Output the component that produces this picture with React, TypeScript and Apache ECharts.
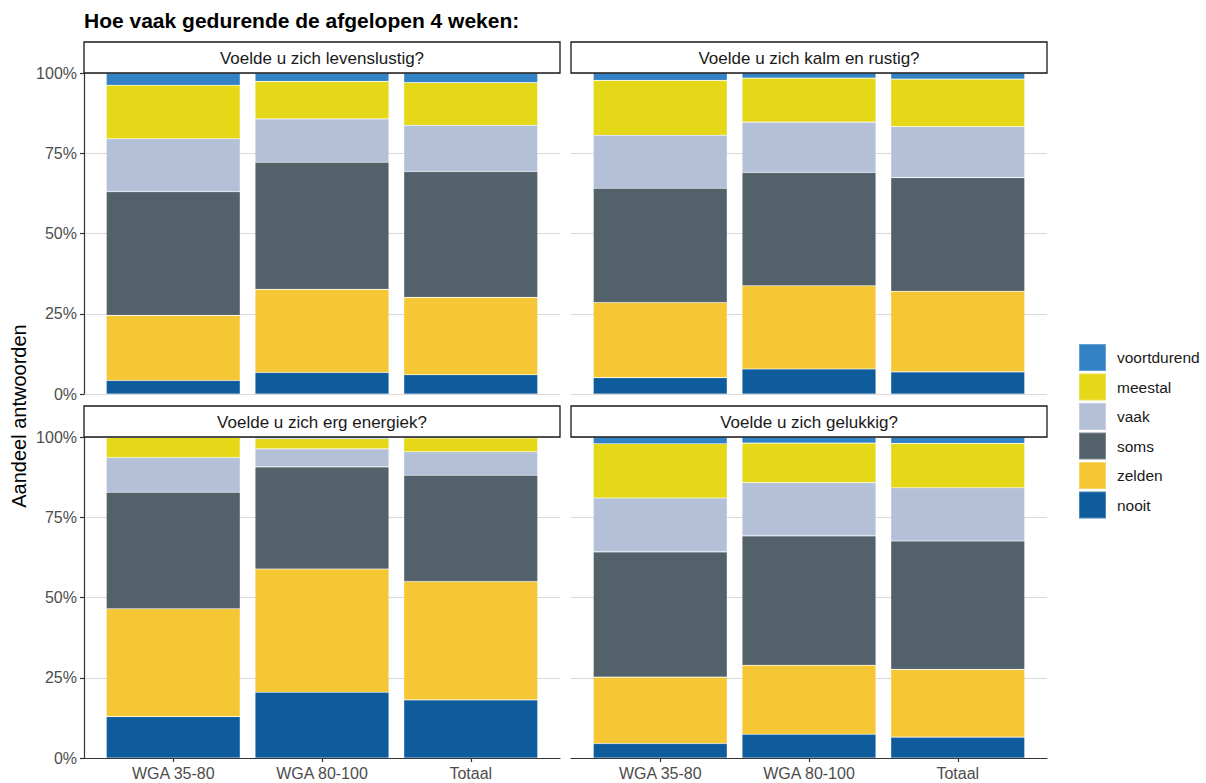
import React, { useEffect, useRef } from "react";
import * as echarts from "echarts";

const answers = ["nooit", "zelden", "soms", "vaak", "meestal", "voortdurend"];
const legendOrder = ["voortdurend", "meestal", "vaak", "soms", "zelden", "nooit"];
const groups = ["WGA 35-80", "WGA 80-100", "Totaal"];
const panelTitles = [
  "Voelde u zich levenslustig?",
  "Voelde u zich kalm en rustig?",
  "Voelde u zich erg energiek?",
  "Voelde u zich gelukkig?",
];

// rows: nooit, zelden, soms, vaak, meestal, voortdurend; columns: groups
const levenslustig = [
  [4.2, 6.7, 6.0],
  [20.3, 25.9, 24.1],
  [38.5, 39.6, 39.2],
  [16.5, 13.5, 14.4],
  [16.7, 11.7, 13.3],
  [3.8, 2.6, 3.0],
];
const kalmRustig = [
  [5.1, 7.8, 6.9],
  [23.4, 25.9, 25.1],
  [35.6, 35.3, 35.4],
  [16.5, 15.7, 15.9],
  [17.1, 13.7, 14.8],
  [2.3, 1.6, 1.9],
];
const ergEnergiek = [
  [12.9, 20.5, 18.1],
  [33.6, 38.4, 36.9],
  [36.3, 31.8, 33.1],
  [10.8, 5.6, 7.3],
  [6.2, 3.2, 4.3],
  [0.2, 0.5, 0.3],
];
const gelukkig = [
  [4.5, 7.4, 6.5],
  [20.7, 21.5, 21.1],
  [39.0, 40.3, 40.0],
  [16.8, 16.6, 16.6],
  [16.9, 12.3, 13.8],
  [2.1, 1.9, 2.0],
];
const panels = [levenslustig, kalmRustig, ergEnergiek, gelukkig];

const colors: Record<string, string> = {
  nooit: "#0E5C9C",
  zelden: "#F5C734",
  soms: "#53616B",
  vaak: "#B3C0D7",
  meestal: "#E5D818",
  voortdurend: "#3282C5",
};

const FONT = "'Liberation Sans', Arial, Helvetica, sans-serif";

export default function App() {
  const ref = useRef<HTMLDivElement>(null);
  useEffect(() => {
    if (!ref.current) return;
    const chart = echarts.init(ref.current, null, { renderer: "svg" });

    const PW = 476;
    const PH = 321;
    const lefts = [84, 571, 84, 571];
    const tops = [73, 73, 437, 437];
    const stripH = 31;
    const unit = PW / 3.2; // ggplot discrete expansion 0.6
    const pad = 0.1 * unit;

    const grid: any[] = [];
    // full-width panels (axes, gridlines)
    lefts.forEach((l, i) => grid.push({ left: l, top: tops[i], width: PW, height: PH }));
    // narrow bar grids
    lefts.forEach((l, i) => grid.push({ left: l + pad, top: tops[i], width: PW - 2 * pad, height: PH }));

    const xAxis: any[] = [];
    const yAxis: any[] = [];
    lefts.forEach((_, i) => {
      const bottom = i >= 2;
      const left = i % 2 === 0;
      xAxis.push({
        type: "value",
        gridIndex: i,
        min: 0,
        max: 1,
        splitLine: { show: false },
        axisLine: { show: bottom, onZero: false, lineStyle: { color: "#333333", width: 1.2 } },
        axisTick: { show: false },
        axisLabel: { show: false },
      });
      yAxis.push({
        type: "value",
        gridIndex: i,
        min: 0,
        max: 100,
        interval: 25,
        axisLine: { show: left, onZero: false, lineStyle: { color: "#333333", width: 1.2 } },
        axisTick: { show: left, length: 4, lineStyle: { color: "#333333", width: 1.2 } },
        axisLabel: {
          show: left,
          formatter: "{value}%",
          fontFamily: FONT,
          fontSize: 16,
          color: "#4D4D4D",
          margin: 7,
        },
        splitLine: { show: true, lineStyle: { color: "#D9D9D9", width: 1.2 } },
      });
    });
    lefts.forEach((_, i) => {
      const bottom = i >= 2;
      xAxis.push({
        type: "category",
        gridIndex: 4 + i,
        data: groups,
        boundaryGap: true,
        axisLine: { show: false },
        axisTick: {
          show: bottom,
          alignWithLabel: true,
          length: 4,
          lineStyle: { color: "#333333", width: 1.2 },
        },
        axisLabel: {
          show: bottom,
          fontFamily: FONT,
          fontSize: 16,
          color: "#4D4D4D",
          margin: 7,
        },
        splitLine: { show: false },
      });
      yAxis.push({
        type: "value",
        gridIndex: 4 + i,
        min: 0,
        max: 100,
        show: false,
        splitLine: { show: false },
      });
    });

    const series: any[] = [];
    panels.forEach((panel, p) => {
      answers.forEach((a, k) => {
        series.push({
          type: "bar",
          name: a,
          xAxisIndex: 4 + p,
          yAxisIndex: 4 + p,
          stack: "panel" + p,
          barWidth: "90%",
          itemStyle: { color: colors[a], borderColor: "rgba(255,255,255,0.25)", borderWidth: 0.6 },
          data: panel[k],
        });
      });
    });

    const graphics: any[] = [
      {
        type: "text",
        left: 84,
        top: 10,
        style: {
          text: "Hoe vaak gedurende de afgelopen 4 weken:",
          fontFamily: FONT,
          fontSize: 21,
          fontWeight: "bold",
          fill: "#000000",
        },
      },
      {
        type: "text",
        x: 19,
        y: 416,
        rotation: Math.PI / 2,
        style: {
          text: "Aandeel antwoorden",
          fontFamily: FONT,
          fontSize: 20,
          fill: "#000000",
          align: "center",
          verticalAlign: "middle",
        },
      },
    ];
    lefts.forEach((l, i) => {
      const y0 = tops[i] - stripH;
      graphics.push({
        type: "rect",
        z: 10,
        shape: { x: l, y: y0, width: PW, height: stripH },
        style: { fill: "#FFFFFF", stroke: "#1A1A1A", lineWidth: 1.3 },
      });
      graphics.push({
        type: "text",
        z: 11,
        x: l + PW / 2,
        y: y0 + stripH / 2 + 1,
        style: {
          text: panelTitles[i],
          fontFamily: FONT,
          fontSize: 17,
          fill: "#1A1A1A",
          align: "center",
          verticalAlign: "middle",
        },
      });
    });

    chart.setOption({
      animation: false,
      backgroundColor: "#FFFFFF",
      textStyle: { fontFamily: FONT },
      grid,
      xAxis,
      yAxis,
      series,
      legend: {
        data: legendOrder,
        orient: "vertical",
        left: 1078,
        top: 343,
        padding: 0,
        itemWidth: 27,
        itemHeight: 27,
        itemGap: 0.5,
        icon: "rect",
        selectedMode: false,
        textStyle: { fontFamily: FONT, fontSize: 15.5, color: "#1A1A1A", padding: [0, 0, 0, 6] },
      },
      graphic: graphics,
    });

    return () => chart.dispose();
  }, []);

  return (
    <div
      ref={ref}
      style={{ position: "fixed", left: 0, top: 0, width: 1206, height: 783, background: "#fff" }}
    />
  );
}
